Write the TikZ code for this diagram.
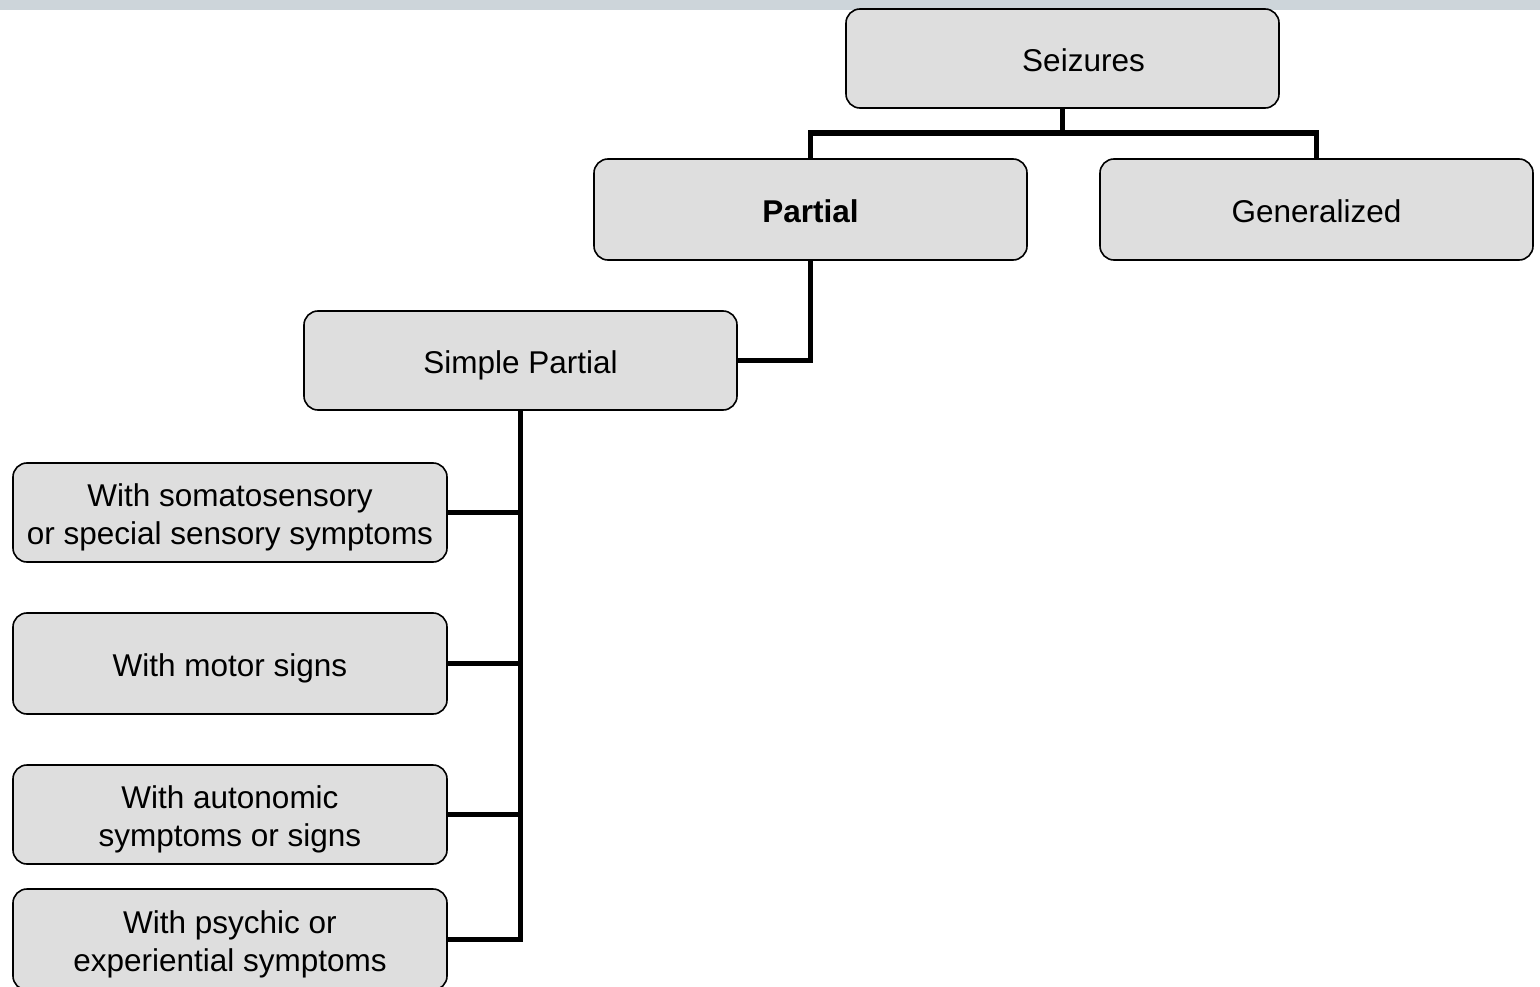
\documentclass[tikz,border=0pt]{standalone}
\usepackage{fontspec}
\setmainfont{Liberation Sans}
\definecolor{boxfill}{HTML}{DEDEDE}
\definecolor{barfill}{HTML}{CDD5DA}
\newcommand{\boxlbl}[1]{\raisebox{-5.5pt}[\height][\depth]{\begin{tabular}{@{}c@{}}#1\end{tabular}}}
\begin{document}
\begin{tikzpicture}[x=1pt,y=-1pt,
  box/.style={draw=black,line width=1.6pt,fill=boxfill,rounded corners=14pt,
    minimum width=433pt,inner sep=0pt,
    font=\fontsize{31.5}{38}\selectfont},
  conn/.style={draw=black,line width=5.5pt}]
\useasboundingbox (0,0) rectangle (1540,987);
\fill[barfill] (0,0) rectangle (1540,10);
\node[box,minimum height=99pt] (seiz) at (1062.5,58.5) {\boxlbl{\hspace*{42pt}Seizures}};
\node[box,minimum height=101pt] (part) at (810.5,209.5) {\boxlbl{\textbf{Partial}}};
\node[box,minimum height=101pt] (gen) at (1316.5,209.5) {\boxlbl{Generalized}};
\node[box,minimum height=99pt] (simp) at (520.5,360.5) {\boxlbl{Simple Partial}};
\node[box,minimum height=99pt,minimum width=434pt] (soma) at (230,512.5) {\boxlbl{With somatosensory\\or special sensory symptoms}};
\node[box,minimum height=101pt,minimum width=434pt] (motor) at (230,663.5) {\boxlbl{With motor signs}};
\node[box,minimum height=99pt,minimum width=434pt] (auto) at (230,814.5) {\boxlbl{With autonomic\\symptoms or signs}};
\node[box,minimum height=101pt,minimum width=434pt] (psych) at (230,939.5) {\boxlbl{With psychic or\\experiential symptoms}};
\coordinate (bus1) at (1062.5,133);
\draw[conn] (seiz.south) -- (bus1);
\draw[conn] (part.north) |- (bus1) -| (gen.north);
\draw[conn] (part.south) |- (simp.east);
\draw[conn] (simp.south) |- (psych.east);
\draw[conn] (soma.east) -- (soma.east -| simp.south);
\draw[conn] (motor.east) -- (motor.east -| simp.south);
\draw[conn] (auto.east) -- (auto.east -| simp.south);
\end{tikzpicture}
\end{document}
